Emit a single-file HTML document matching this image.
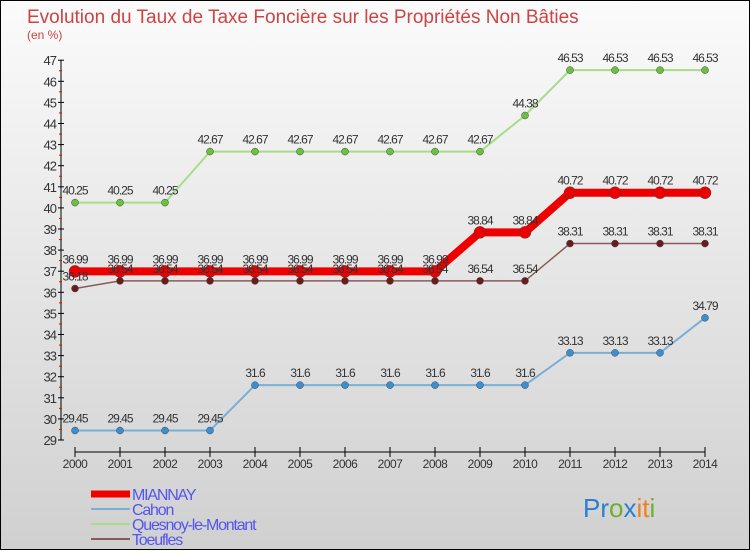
<!DOCTYPE html>
<html><head><meta charset="utf-8"><style>
body{margin:0;width:750px;height:550px;overflow:hidden;font-family:"Liberation Sans",sans-serif}
#wrap{position:relative;width:748px;height:548px;border:1px solid #000;background:linear-gradient(#fbfbfb,#d0d0d0)}
</style></head><body>
<div id="wrap">
<svg id="chart" width="748" height="548"></svg>
</div>
<script>
const years=[2000,2001,2002,2003,2004,2005,2006,2007,2008,2009,2010,2011,2012,2013,2014];
const mianay=[36.99,36.99,36.99,36.99,36.99,36.99,36.99,36.99,36.99,38.84,38.84,40.72,40.72,40.72,40.72];
const cahon=[29.45,29.45,29.45,29.45,31.6,31.6,31.6,31.6,31.6,31.6,31.6,33.13,33.13,33.13,34.79];
const quesnoy=[40.25,40.25,40.25,42.67,42.67,42.67,42.67,42.67,42.67,42.67,44.38,46.53,46.53,46.53,46.53];
const toeufles=[36.18,36.54,36.54,36.54,36.54,36.54,36.54,36.54,36.54,36.54,36.54,38.31,38.31,38.31,38.31];
const yTicks=[29,30,31,32,33,34,35,36,37,38,39,40,41,42,43,44,45,46,47];
const NS="http://www.w3.org/2000/svg";
const svg=document.getElementById('chart');
const xs=i=>74+i*45;
const ys=v=>439-(v-29)*21.1;
function mk(t,a,p){const e=document.createElementNS(NS,t);for(const k in a)e.setAttribute(k,a[k]);(p||svg).appendChild(e);return e;}
const title=mk('text',{x:26,y:22,'font-size':19,fill:'#cc4444'});title.textContent='Evolution du Taux de Taxe Foncière sur les Propriétés Non Bâties';


const unit=mk('text',{x:26,y:38,'font-size':12,fill:'#cc4444'});unit.textContent='(en %)';


const yax=mk('line',{x1:60,y1:ys(47),x2:60,y2:ys(29),stroke:'#000','stroke-width':1});


yTicks.forEach(v=>{
 mk('line',{x1:57,x2:63,y1:ys(v),y2:ys(v),stroke:'#000'});
 if(v<47)mk('line',{x1:58,x2:61,y1:ys(v+0.5),y2:ys(v+0.5),stroke:'#e00'});
 const t=mk('text',{x:55,y:ys(v)+5,'font-size':13,fill:'#333','text-anchor':'end','letter-spacing':'-1'});t.textContent=v;
 
 
});
const xax=mk('line',{x1:xs(0),x2:xs(14),y1:451,y2:451,stroke:'#000'});


years.forEach((y,i)=>{
 mk('line',{x1:xs(i),x2:xs(i),y1:446,y2:456,stroke:'#000'});
 const t=mk('text',{x:xs(i),y:467,'font-size':12,fill:'#333','text-anchor':'middle','letter-spacing':'-0.5'});t.textContent=y;
 
 
});
const labelLayer=[];
function series(data,name,color,dot,w,r){
 const g=mk('g',{});
 
 
 mk('polyline',{points:data.map((v,i)=>xs(i)+','+ys(v)).join(' '),fill:'none',stroke:color,'stroke-width':w},g);
 data.forEach((v,i)=>{
  const c=mk('circle',{cx:xs(i),cy:ys(v),r:r,fill:dot,stroke:'#444','stroke-width':0.5},g);
  
  
  labelLayer.push([name,v,i]);
 });
}
series(cahon,'cahon','#7aaed6','#3b8fd1',2,3.5);
series(quesnoy,'quesnoy','#a6dd88','#6cc13c',2,3.5);
series(toeufles,'toeufles','#8a5a5a','#6b1b1b',1.5,3.5);
series(mianay,'mianay','#ee0000','#ee0000',8,6);
labelLayer.forEach(([name,v,i])=>{
  const t=mk('text',{x:xs(i),y:ys(v)-8,'font-size':12,fill:'#333','text-anchor':'middle','letter-spacing':'-1'});t.textContent=v;
  
  
});
const leg=[['MIANNAY','#ee0000',7],['Cahon','#7aaed6',2],['Quesnoy-le-Montant','#a6dd88',2],['Toeufles','#8a5a5a',2]];
leg.forEach((l,i)=>{
 const y=493+i*15;
 const g=mk('g',{});
 
 
 mk('line',{x1:90,x2:129,y1:y,y2:y,stroke:l[1],'stroke-width':l[2]},g);
 const t=mk('text',{x:131,y:y+6,'font-size':16,fill:'#5555ee','letter-spacing':'-1.2'},g);t.textContent=l[0];
});
const logo=mk('text',{x:582,y:516,'font-size':26});


[['P','#2a7fd0'],['r','#2a7fd0'],['o','#6cb030'],['x','#2a7fd0'],['i','#f08020'],['t','#f08020'],['i','#6cb030']].forEach(c=>{const s=mk('tspan',{fill:c[1]},logo);s.textContent=c[0];});
</script>
</body></html>
